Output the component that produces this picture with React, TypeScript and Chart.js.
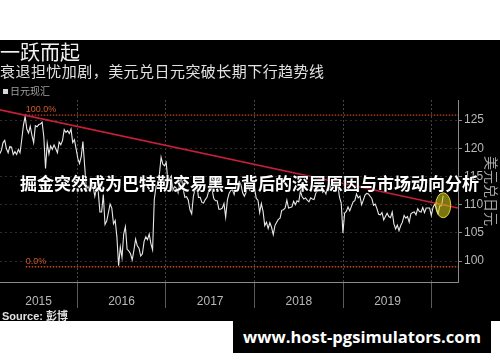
import React, { useEffect, useRef } from "react";
import { Chart, registerables } from "chart.js";

Chart.register(...registerables);

// ---- data (weekly USD/JPY) ----
const startYear = 2015.126; // week of 16 Feb 2015
const weekInYears = 7 / 365.25;

const usdjpy2015 = [
  119.0, 119.6,
  121.0, 121.4, 119.9, 119.2, 120.3,
  120.2, 118.9, 119.4, 118.9,
  119.8, 119.2, 121.5, 124.1,
  125.6, 123.4, 122.7, 123.9, 122.3,
  121.0, 124.0, 123.8, 124.2,
  124.3, 124.6, 122.0, 116.4, 120.9,
  119.0, 120.4, 119.8, 120.6,
  119.9, 119.2, 121.1, 120.6,
  121.4, 123.3, 122.8, 123.1, 122.6,
  123.4, 121.0, 121.5, 119.9,
];
const usdjpy2016 = [
  118.2, 117.3, 118.5, 121.2,
  117.0, 112.8, 113.2, 112.6, 114.0,
  113.2, 111.5, 113.0, 112.4,
  108.7, 108.7, 111.8, 106.5,
  107.1, 108.6, 110.1, 109.4, 106.6,
  107.2, 104.3, 99.2, 102.5,
  100.6, 104.8, 106.1, 102.1,
  101.8, 101.3, 100.2, 101.9, 103.9,
  102.7, 102.3, 100.9, 101.3,
  103.5, 104.3, 103.8, 104.8, 103.1,
  102.0, 110.9, 113.2, 113.5,
  115.4, 118.4, 117.2, 116.9,
];
const usdjpy2017 = [
  117.5, 114.2, 114.6, 115.1, 112.6,
  113.2, 112.9, 112.1, 114.0,
  114.8, 112.7, 111.3, 111.4,
  110.8, 109.1, 108.4, 111.5,
  112.7, 113.6, 111.3, 111.3, 110.4,
  110.3, 110.9, 111.3, 112.4,
  113.9, 112.6, 111.1, 110.7, 110.7,
  109.2, 109.2, 109.4, 110.2,
  107.8, 110.8, 112.0, 112.5,
  112.6, 111.8, 113.5, 113.7, 114.1,
  113.5, 112.1, 111.5, 112.2,
  113.5, 112.6, 113.3, 112.7,
];
const usdjpy2018 = [
  113.0, 111.1, 110.8, 108.6, 110.2,
  108.8, 106.3, 106.9, 105.8,
  106.8, 106.0, 104.7, 106.3,
  106.9, 107.4, 107.6, 109.0, 109.1,
  109.4, 110.8, 109.4, 109.5,
  109.6, 110.6, 110.0, 110.7,
  110.5, 112.4, 111.4, 111.0, 111.2,
  110.8, 110.5, 111.2, 111.0,
  110.9, 112.0, 112.6, 113.7,
  113.7, 112.2, 112.5, 111.9, 113.2,
  113.8, 112.8, 112.9, 113.5,
  112.7, 113.4, 111.3, 110.3, 105.0,
];
const usdjpy2019 = [
  108.5, 108.8, 109.6, 108.9,
  109.7, 110.5, 110.7, 111.9,
  111.2, 111.5, 110.0, 110.8,
  111.7, 112.0, 111.9, 111.5, 111.1,
  109.9, 110.1, 109.3, 108.3,
  108.2, 108.6, 107.3, 107.9,
  108.5, 107.9, 107.7, 108.7, 106.6,
  105.7, 106.4, 105.4, 106.3,
  106.9, 108.1, 107.6, 107.9, 106.9,
  108.4, 108.6, 108.7, 108.2,
  109.3, 108.8, 108.7, 109.5,
  108.6, 109.4, 109.4, 109.4, 108.1,
];
const usdjpy2020 = [109.5, 110.1, 109.3, 108.4, 109.8, 109.8, 111.6];

const usdjpy = [
  ...usdjpy2015, ...usdjpy2016, ...usdjpy2017,
  ...usdjpy2018, ...usdjpy2019, ...usdjpy2020,
];

// axes
const xMin = 2015.13;
const xMax = 2020.295;
const yMin = 96.3;
const yMax = 128.55;
const yTicks = [100, 105, 110, 115, 120, 125];
const yearBoundaries = [2016, 2017, 2018, 2019, 2020];
const yearLabelPositions = [2015.565, 2016.5, 2017.5, 2018.5, 2019.5];
const yearLabels = ["2015", "2016", "2017", "2018", "2019"];

// retracement lines & trend line
const fibStart = 2015.42;
const fibLevels = [125.86, 99.0];
const fibLabels = ["100.0%", "0.0%"];
const trendValues = [126.8, 109.4];
const markerPoint = { x: 2020.128, y: 109.9 };

// texts
const titleText = "一跃而起";
const subtitleText = "衰退担忧加剧，美元兑日元突破长期下行趋势线";
const legendText = "日元现汇";
const yAxisTitle = "美元兑日元";
const headlineText = "掘金突然成为巴特勒交易黑马背后的深层原因与市场动向分析";
const sourceText = "Source: 彭博";
const urlText = "www.host-pgsimulators.com";

const overlayPlugin = {
  id: "overlayMarks",
  afterDatasetsDraw(chart: any) {
    const { ctx, scales } = chart;
    const x = scales.x;
    const y = scales.y;
    ctx.save();
    // yellow highlight ellipse
    const cx = x.getPixelForValue(markerPoint.x);
    const cy = y.getPixelForValue(markerPoint.y);
    ctx.beginPath();
    ctx.ellipse(cx, cy, 7.5, 12.5, 0, 0, Math.PI * 2);
    ctx.fillStyle = "rgba(205,195,25,0.6)";
    ctx.fill();
    ctx.lineWidth = 1;
    ctx.strokeStyle = "rgba(235,225,60,0.9)";
    ctx.stroke();
    // fib labels
    ctx.font = '9px "Liberation Sans", sans-serif';
    ctx.fillStyle = "#d0582c";
    ctx.textAlign = "left";
    ctx.textBaseline = "bottom";
    fibLevels.forEach((lvl, i) => {
      ctx.fillText(fibLabels[i], x.getPixelForValue(fibStart), y.getPixelForValue(lvl) - 1);
    });
    ctx.restore();
  },
};

export default function App() {
  const ref = useRef<HTMLCanvasElement>(null);

  useEffect(() => {
    const priceData = usdjpy.map((v, i) => ({ x: startYear + i * weekInYears, y: v }));
    const chart = new Chart(ref.current as HTMLCanvasElement, {
      type: "line",
      data: {
        datasets: [
          {
            data: [
              { x: xMin, y: trendValues[0] },
              { x: xMax, y: trendValues[1] },
            ],
            borderColor: "#c81e3c",
            borderWidth: 1.6,
            pointRadius: 0,
          },
          {
            data: priceData,
            borderColor: "#e8e8e8",
            borderWidth: 1.1,
            pointRadius: 0,
            tension: 0,
          },
          ...fibLevels.map((lvl) => ({
            data: [
              { x: fibStart, y: lvl },
              { x: xMax, y: lvl },
            ],
            borderColor: "#c8461c",
            borderWidth: 1.3,
            borderDash: [1.5, 1.5],
            pointRadius: 0,
          })),
        ],
      },
      options: {
        animation: false,
        responsive: false,
        devicePixelRatio: 1,
        layout: { padding: { top: 60, left: 0, right: 0, bottom: 0 } },
        plugins: { legend: { display: false }, tooltip: { enabled: false } },
        scales: {
          x: {
            type: "linear",
            min: xMin,
            max: xMax,
            afterBuildTicks: (scale: any) => {
              scale.ticks = [...yearBoundaries, ...yearLabelPositions]
                .sort((a, b) => a - b)
                .map((v) => ({ value: v }));
            },
            afterFit: (scale: any) => {
              scale.height = 39;
            },
            ticks: {
              autoSkip: false,
              maxRotation: 0,
              padding: -14,
              color: "#b8b8b8",
              font: { family: '"Liberation Sans", sans-serif', size: 12 },
              callback: (value: any) => {
                const idx = yearLabelPositions.indexOf(Number(value));
                return idx >= 0 ? yearLabels[idx] : "";
              },
            },
            grid: {
              display: true,
              drawOnChartArea: true,
              drawTicks: true,
              tickLength: 26,
              color: (c: any) =>
                c.tick && yearBoundaries.includes(c.tick.value) ? "#454545" : "rgba(0,0,0,0)",
              tickColor: (c: any) =>
                c.tick && yearBoundaries.includes(c.tick.value) ? "#5a5a5a" : "rgba(0,0,0,0)",
              lineWidth: 1,
            },
            border: { display: true, color: "#8a8a8a", width: 1, dash: [2, 2] },
          },
          y: {
            type: "linear",
            position: "right",
            min: yMin,
            max: yMax,
            afterBuildTicks: (scale: any) => {
              scale.ticks = yTicks.map((v) => ({ value: v }));
            },
            afterFit: (scale: any) => {
              scale.width = 42;
            },
            ticks: {
              padding: 2,
              color: "#b8b8b8",
              font: { family: '"Liberation Sans", sans-serif', size: 12 },
              callback: (value: any) => String(value),
            },
            grid: {
              display: true,
              drawTicks: true,
              tickLength: 4,
              color: "#2c2c2c",
              tickColor: "#8a8a8a",
            },
            border: { display: true, color: "#8a8a8a", width: 1, dash: [2, 3] },
            title: {
              display: true,
              text: yAxisTitle,
              color: "#a8a8a8",
              padding: { top: 0, bottom: 0 },
              font: { family: '"Noto Sans CJK SC", sans-serif', size: 14 },
            },
          },
        },
      },
      plugins: [overlayPlugin],
    } as any);
    return () => chart.destroy();
  }, []);

  const cjk = '"Noto Sans CJK SC", "Noto Sans", sans-serif';

  return (
    <div
      style={{
        position: "absolute",
        left: 0,
        top: 0,
        width: 500,
        height: 362,
        background: "#fff",
        overflow: "hidden",
        fontFamily: cjk,
      }}
    >
      <div style={{ position: "absolute", left: 0, top: 40, width: 500, height: 281, background: "#000" }} />
      <canvas
        ref={ref}
        width={500}
        height={281}
        style={{ position: "absolute", left: 0, top: 40, width: 500, height: 281 }}
      />
      <div
        style={{
          position: "absolute",
          left: 0,
          top: 41,
          fontSize: 20,
          lineHeight: "22px",
          color: "#f2f2f2",
          whiteSpace: "nowrap",
        }}
      >
        {titleText}
      </div>
      <div
        style={{
          position: "absolute",
          left: 0,
          top: 62,
          fontSize: 15,
          letterSpacing: 0.45,
          lineHeight: "17px",
          color: "#e2e2e2",
          whiteSpace: "nowrap",
        }}
      >
        {subtitleText}
      </div>
      <div
        style={{
          position: "absolute",
          left: 3,
          top: 85,
          fontSize: 10,
          lineHeight: "12px",
          color: "#a0a0a0",
          whiteSpace: "nowrap",
          display: "flex",
          alignItems: "center",
        }}
      >
        <span style={{ display: "inline-block", width: 5, height: 5, background: "#d8d8d8", marginRight: 2 }} />
        {legendText}
      </div>
      <div
        style={{
          position: "absolute",
          left: 20,
          top: 173,
          fontSize: 17,
          fontWeight: 700,
          lineHeight: "20px",
          color: "#ffffff",
          whiteSpace: "nowrap",
          textShadow: "0 0 2px #000, 0 0 1px #000",
        }}
      >
        {headlineText}
      </div>
      <div
        style={{
          position: "absolute",
          left: 2,
          top: 309,
          fontSize: 11,
          fontWeight: 700,
          lineHeight: "14px",
          color: "#e0e0e0",
          whiteSpace: "nowrap",
          fontFamily: '"Liberation Sans", "Noto Sans CJK SC", sans-serif',
        }}
      >
        {sourceText}
      </div>
      <div
        style={{
          position: "absolute",
          left: 233,
          top: 321,
          width: 258,
          height: 32,
          background: "#000",
          color: "#fff",
          fontFamily: '"Open Sans", sans-serif',
          fontWeight: 700,
          fontSize: 16.6,
          lineHeight: "32px",
          textAlign: "center",
          whiteSpace: "nowrap",
        }}
      >
        {urlText}
      </div>
    </div>
  );
}
